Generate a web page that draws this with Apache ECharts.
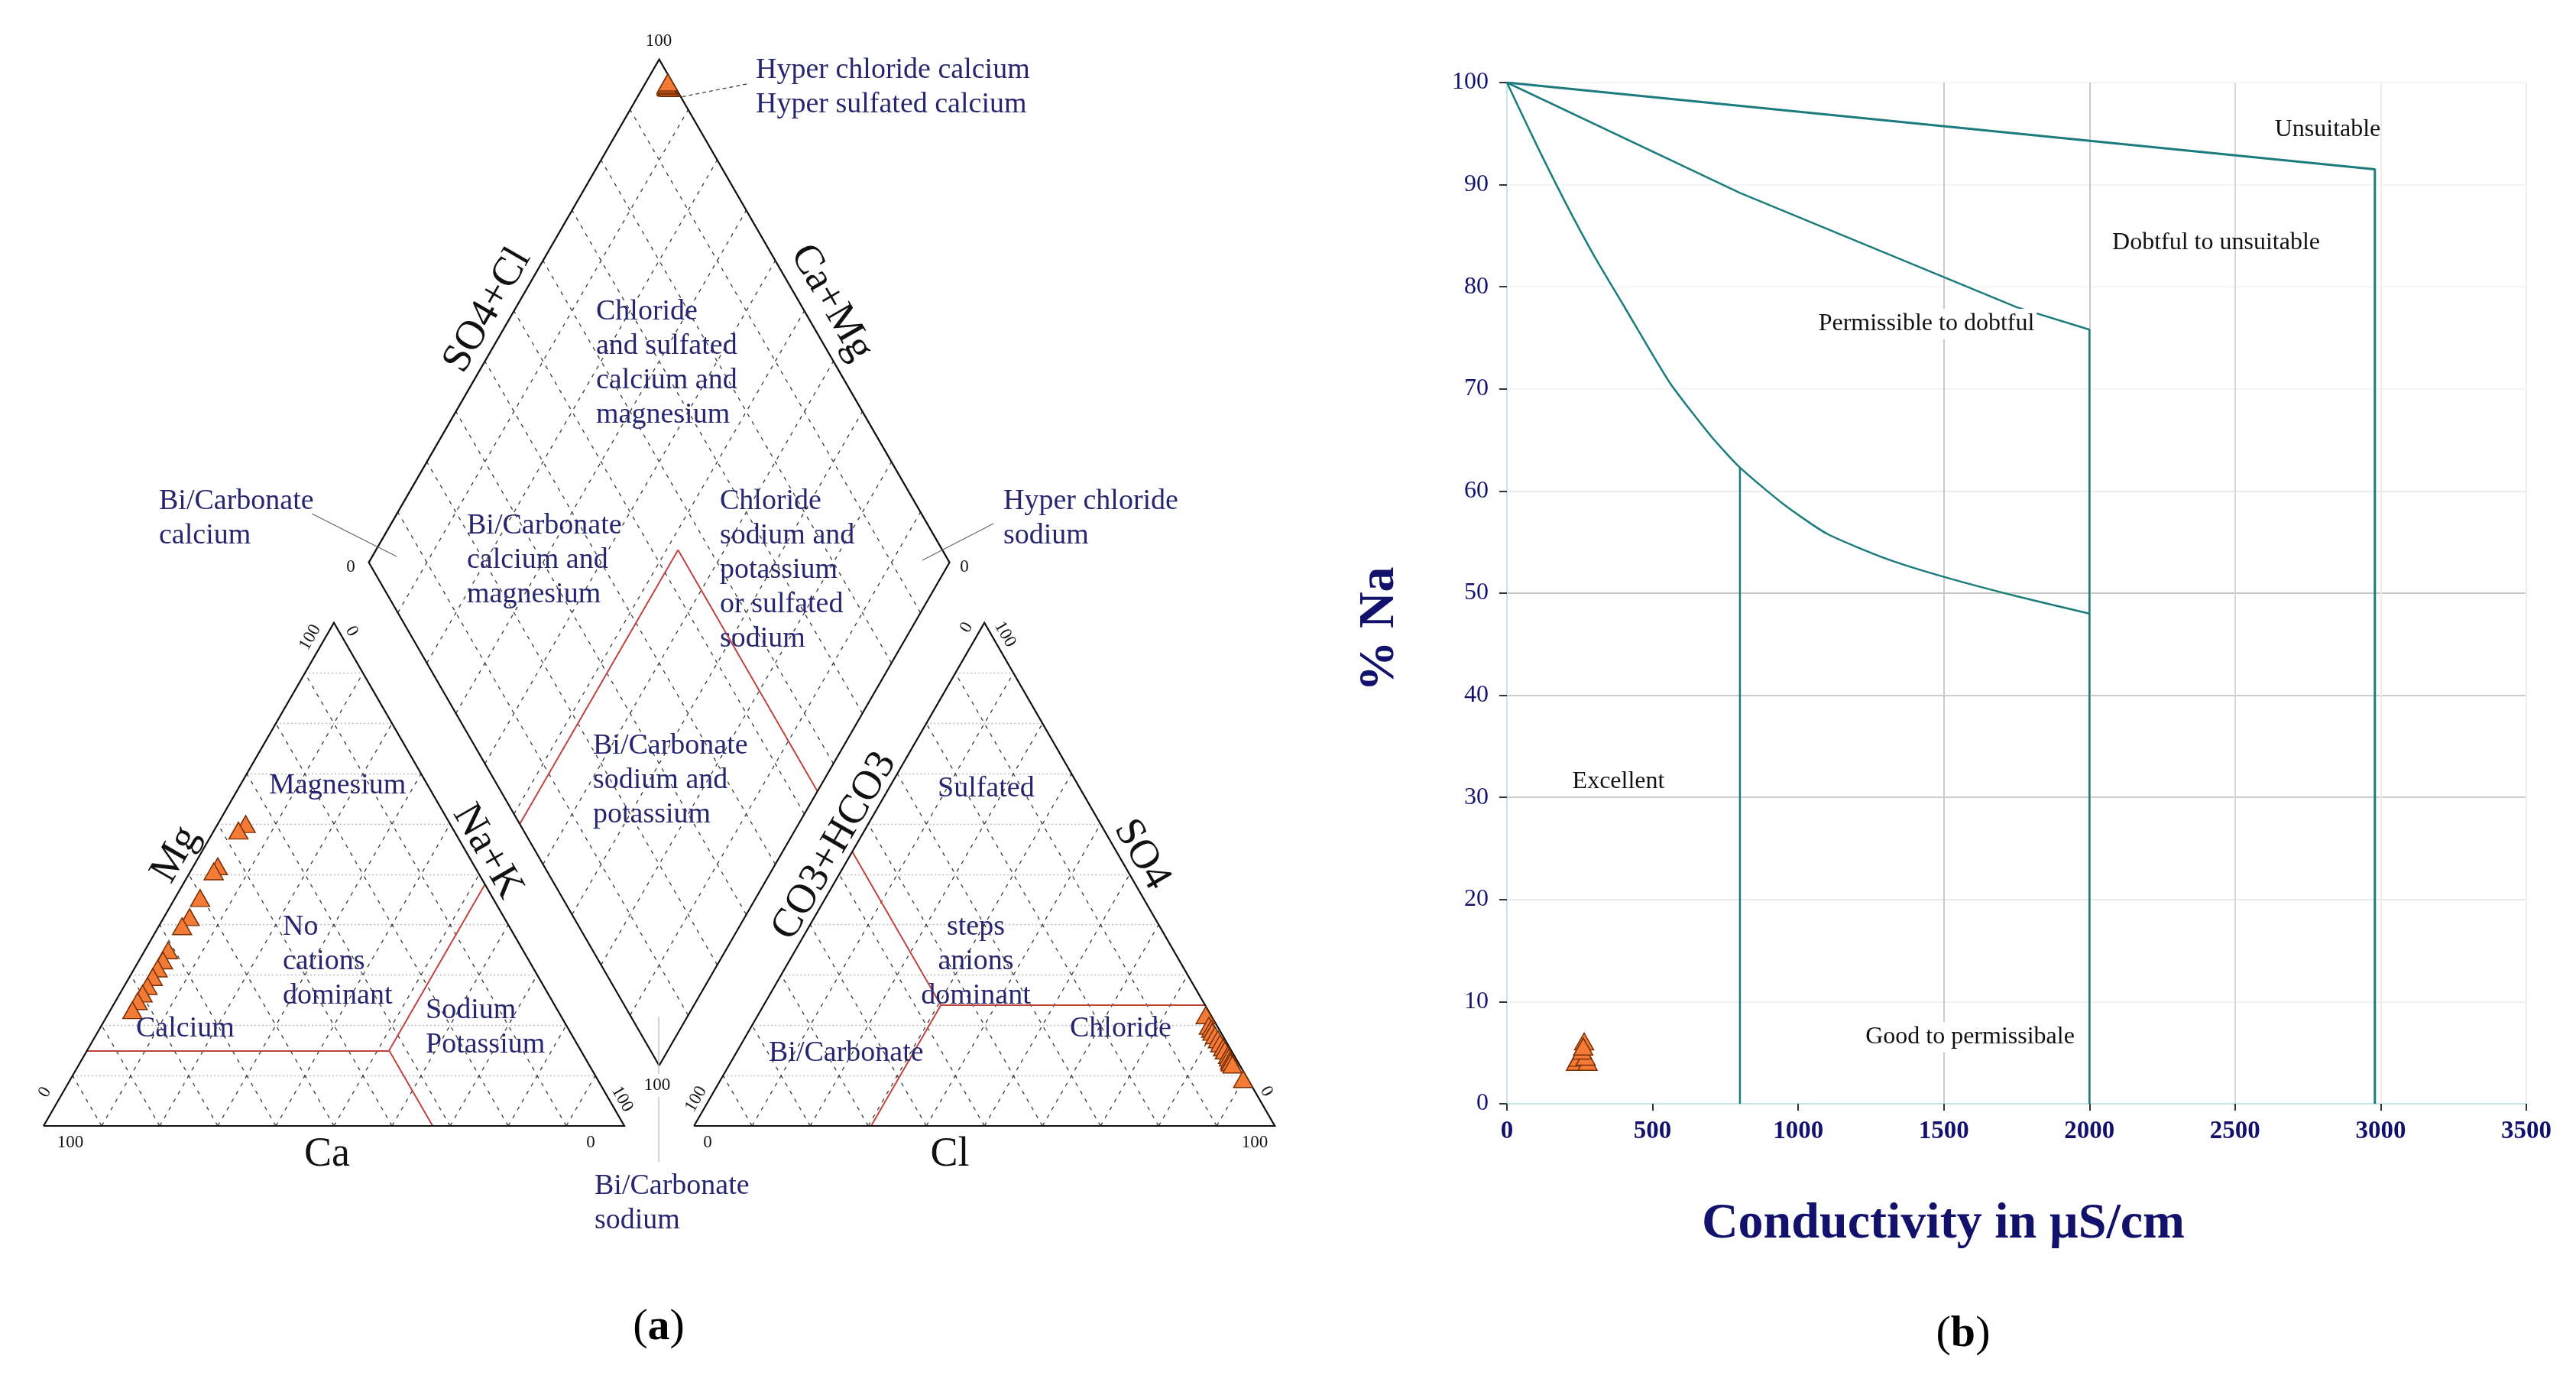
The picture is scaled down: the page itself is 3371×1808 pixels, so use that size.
<!DOCTYPE html>
<html>
<head>
<meta charset="utf-8">
<title>Piper and Wilcox diagrams</title>
<script src="https://cdn.jsdelivr.net/npm/echarts@6/dist/echarts.min.js"></script>
<style>
html, body { margin: 0; padding: 0; background: #fff; }
#chart { width: 3371px; height: 1808px; }
</style>
</head>
<body>
<div id="chart"></div>
<script>
// ---------- Piper samples (% meq/l) ----------
var cationCa  = [35.2, 37.1, 44.2, 45.4, 50.4, 54.1, 56.3, 61.1, 63.0, 64.7, 66.4, 68.2, 69.8, 71.4, 73.2];
var cationMg  = [60.0, 58.7, 51.6, 50.6, 45.3, 41.5, 39.7, 34.9, 32.9, 31.3, 29.6, 27.8, 26.3, 24.8, 23.0];
var cationNaK = [4.8, 4.2, 4.2, 4.0, 4.3, 4.4, 4.0, 4.0, 4.1, 4.0, 4.0, 4.0, 3.9, 3.8, 3.8];
var anionCl   = [77.1, 78.7, 79.4, 79.9, 80.7, 81.6, 82.4, 83.3, 83.9, 84.9, 85.3, 85.8, 86.1, 86.6, 89.9];
var anionSO4  = [22.0, 19.9, 19.3, 18.7, 18.0, 17.2, 16.4, 15.6, 15.0, 14.1, 13.6, 13.0, 12.6, 12.2, 9.3];
var anionHCO3 = [0.9, 1.4, 1.3, 1.4, 1.3, 1.2, 1.2, 1.1, 1.1, 1.0, 1.1, 1.2, 1.3, 1.2, 0.8];

// facies limits drawn in red
var limMg = 15, limCa = 33, limNa = 52;
var limSO4 = 24, limCl = 30.5, limHCO3 = 45.5;

// ---------- Wilcox samples ----------
var wilcoxEC = [237, 245, 277, 270, 265, 258, 262];
var wilcoxNa = [4.1, 4.5, 4.1, 4.6, 6.1, 5.2, 5.6];

// Wilcox class limits
var limTopX = [0, 2980, 2980];
var limTopY = [100, 91.5, 0];
var limMidX = [0, 800, 1750, 2000, 2000];
var limMidY = [100, 89.2, 78, 75.8, 0];
var limLowX = [0, 100, 200, 300, 400, 557, 700, 800, 950, 1100, 1300, 1500, 1750, 2000];
var limLowY = [100, 94, 88.3, 83, 78.2, 70.7, 65.4, 62.3, 58.7, 55.8, 53.4, 51.6, 49.7, 48];
var limExcX = [800, 800];
var limExcY = [62.3, 0];

var NAVY = '#262670';
var DARKNAVY = '#12126c';
var SERIF = '"Liberation Serif", "DejaVu Serif", serif';

// ---------- ternary geometry ----------
var H = Math.sqrt(3) / 2;
var GAP = 12;
function cat(ca, mg, na) { return [na + mg / 2, mg * H]; }
function ani(cl, so4, hco3) { return [100 + GAP + cl + so4 / 2, so4 * H]; }
function dia(caMg, so4Cl) {
	return [100 + GAP / 2 + (so4Cl - caMg) / 2, GAP * H + (caMg + so4Cl) * H];
}
function zip(xs, ys) {
	return xs.map(function (x, i) { return [x, ys[i]]; });
}

var outline = [
	[cat(100, 0, 0), cat(0, 0, 100), cat(0, 100, 0), cat(100, 0, 0)],
	[ani(0, 0, 100), ani(100, 0, 0), ani(0, 100, 0), ani(0, 0, 100)],
	[dia(0, 0), dia(100, 0), dia(100, 100), dia(0, 100), dia(0, 0)]
];
var dashed = [], dotted = [];
for (var k = 10; k < 100; k += 10) {
	dotted.push([cat(100 - k, k, 0), cat(0, k, 100 - k)]);
	dashed.push([cat(100 - k, 0, k), cat(0, 100 - k, k)]);
	dashed.push([cat(k, 0, 100 - k), cat(k, 100 - k, 0)]);
	dotted.push([ani(0, k, 100 - k), ani(100 - k, k, 0)]);
	dashed.push([ani(k, 0, 100 - k), ani(k, 100 - k, 0)]);
	dashed.push([ani(100 - k, 0, k), ani(0, 100 - k, k)]);
	dashed.push([dia(k, 0), dia(k, 100)]);
	dashed.push([dia(0, k), dia(100, k)]);
}
var p1 = cat(limCa, limMg, limNa);
var p2 = ani(limCl, limSO4, limHCO3);
var red = [
	[cat(100 - limMg, limMg, 0), p1],
	[p1, cat(limCa, 0, 100 - limCa)],
	[p1, cat(0, 100 - limNa, limNa)],
	[ani(100 - limSO4, limSO4, 0), p2],
	[p2, ani(limCl, 0, 100 - limCl)],
	[p2, ani(0, 100 - limHCO3, limHCO3)],
	[dia(100 - limNa, 0), dia(100 - limNa, 100 - limHCO3)],
	[dia(0, 100 - limHCO3), dia(100 - limNa, 100 - limHCO3)]
];

var catPts = cationCa.map(function (c, i) { return cat(c, cationMg[i], cationNaK[i]); });
var aniPts = anionCl.map(function (c, i) { return ani(c, anionSO4[i], anionHCO3[i]); });
var diaPts = cationCa.map(function (c, i) {
	return dia(c + cationMg[i], anionSO4[i] + anionCl[i]);
});

function segs(list) {
	return list.map(function (s) { return { coords: s }; });
}

var marker = {
	symbol: 'triangle',
	symbolSize: [25, 22],
	itemStyle: { color: '#f47b35', borderColor: '#7a2e05', borderWidth: 1.5, opacity: 1 }
};

// ---------- text helpers ----------
function label(x, y, text, size, o) {
	o = o || {};
	var st = {
		text: text,
		fill: o.color || NAVY,
		fontFamily: SERIF,
		fontSize: size,
		fontWeight: o.bold ? 'bold' : 'normal',
		align: o.align || 'left',
		verticalAlign: o.valign || 'top',
		lineHeight: o.lh || Math.round(size * 1.2)
	};
	if (o.bg) { st.backgroundColor = o.bg; st.padding = [1, 3]; }
	if (o.rich) { st.rich = o.rich; }
	return {
		type: 'text', x: x, y: y, z: 100,
		rotation: (o.rot || 0) * Math.PI / 180,
		style: st
	};
}
function tick(x, y, text, rot) {
	return label(x, y, text, 23, { color: '#111', align: 'center', valign: 'middle', rot: rot || 0 });
}
function axname(x, y, text, rot) {
	return label(x, y, text, 54, { color: '#111', align: 'center', valign: 'middle', rot: rot || 0 });
}
function leader(x1, y1, x2, y2, color, dash) {
	return {
		type: 'line', z: 90,
		shape: { x1: x1, y1: y1, x2: x2, y2: y2 },
		style: { stroke: color, lineWidth: 1.3, lineDash: dash || null }
	};
}
var captionRich = {
	p: { fontSize: 58, fontFamily: SERIF, fontWeight: 'normal', fill: '#000' },
	b: { fontSize: 58, fontFamily: SERIF, fontWeight: 'bold', fill: '#000' }
};
var FS = 38, LH = 45;
var graphics = [
	// Piper zone names
	label(989, 70, 'Hyper chloride calcium\nHyper sulfated calcium', FS, { lh: LH }),
	label(780, 386, 'Chloride\nand sulfated\ncalcium and\nmagnesium', FS, { lh: LH }),
	label(208, 634, 'Bi/Carbonate\ncalcium', FS, { lh: LH }),
	label(1313, 634, 'Hyper chloride\nsodium', FS, { lh: LH }),
	label(611, 666, 'Bi/Carbonate\ncalcium and\nmagnesium', FS, { lh: LH }),
	label(942, 634, 'Chloride\nsodium and\npotassium\nor sulfated\nsodium', FS, { lh: LH }),
	label(776, 954, 'Bi/Carbonate\nsodium and\npotassium', FS, { lh: LH }),
	label(352, 1006, 'Magnesium', FS, { lh: LH }),
	label(370, 1191, 'No\ncations\ndominant', FS, { lh: LH }),
	label(178, 1324, 'Calcium', FS, { lh: LH }),
	label(557, 1300, 'Sodium\nPotassium', FS, { lh: LH }),
	label(1227, 1010, 'Sulfated', FS, { lh: LH }),
	label(1277, 1191, 'steps\nanions\ndominant', FS, { lh: LH, align: 'center' }),
	label(1400, 1324, 'Chloride', FS, { lh: LH }),
	label(1006, 1356, 'Bi/Carbonate', FS, { lh: LH }),
	label(778, 1530, 'Bi/Carbonate\nsodium', FS, { lh: LH }),
	// Piper axis names
	axname(638, 406, 'SO4+Cl', 60),
	axname(1088, 396, 'Ca+Mg', -60),
	axname(230, 1118, 'Mg', 60),
	axname(638, 1114, 'Na+K', -60),
	axname(1092, 1107, 'CO3+HCO3', 60),
	axname(1494, 1118, 'SO4', -60),
	axname(428, 1511, 'Ca', 0),
	axname(1243, 1511, 'Cl', 0),
	// Piper scale ends
	tick(862, 54, '100'),
	tick(459, 742, '0'),
	tick(1262, 742, '0'),
	label(860, 1420, '100', 23, { color: '#111', align: 'center', valign: 'middle', bg: '#fff' }),
	tick(92, 1495, '100'),
	tick(773, 1495, '0'),
	tick(59, 1429, '0', 60),
	tick(406, 834, '100', 60),
	tick(460, 826, '0', -60),
	tick(814, 1438, '100', -60),
	tick(1265, 821, '0', 60),
	tick(1315, 830, '100', -60),
	tick(911, 1438, '100', 60),
	tick(1657, 1428, '0', -60),
	tick(926, 1495, '0'),
	tick(1642, 1495, '100'),
	// leaders
	leader(408, 672, 519, 728, '#666'),
	leader(1300, 685, 1207, 733, '#666'),
	leader(977, 110, 891, 127, '#444', [5, 4]),
	leader(862, 1330, 862, 1520, '#bbb'),
	// panel captions
	label(862, 1737, '{p|(}{b|a}{p|)}', 58, { color: '#000', align: 'center', valign: 'middle', rich: captionRich }),
	label(2569, 1746, '{p|(}{b|b}{p|)}', 58, { color: '#000', align: 'center', valign: 'middle', rich: captionRich }),
	// Wilcox titles
	label(1806, 823, '% Na', 66, { color: DARKNAVY, bold: true, align: 'center', valign: 'middle', rot: 90 }),
	label(2543, 1602, 'Conductivity in \u00b5S/cm', 66, { color: DARKNAVY, bold: true, align: 'center', valign: 'middle' }),
	// Wilcox classes
	label(3046, 170, 'Unsuitable', 32, { color: '#111', align: 'center', valign: 'middle' }),
	label(2900, 318, 'Dobtful to unsuitable', 32, { color: '#111', align: 'center', valign: 'middle' }),
	label(2521, 424, 'Permissible to dobtful', 32, { color: '#111', align: 'center', valign: 'middle', bg: '#fff' }),
	label(2118, 1023, 'Excellent', 32, { color: '#111', align: 'center', valign: 'middle' }),
	label(2578, 1357, 'Good to permissibale', 32, { color: '#111', align: 'center', valign: 'middle', bg: '#fff' })
];

var TEAL = '#1b7c7e';
function limitLine(xs, ys, w, smooth) {
	return {
		type: 'line', xAxisIndex: 1, yAxisIndex: 1,
		data: zip(xs, ys), showSymbol: false, symbol: 'none',
		smooth: smooth || false,
		lineStyle: { color: TEAL, width: w }, z: 3, silent: true
	};
}

var chart = echarts.init(document.getElementById('chart'));
var option = {
	animation: false,
	backgroundColor: '#ffffff',
	textStyle: { fontFamily: SERIF },
	grid: [
		{ left: 0, top: 29, width: 1710, height: 1672, outerBoundsMode: 'none' },
		{ left: 1972, top: 108, width: 1334, height: 1336, outerBoundsMode: 'none' }
	],
	xAxis: [
		{ gridIndex: 0, type: 'value', min: -7.5, max: 217.5, show: false },
		{
			gridIndex: 1, type: 'value', min: 0, max: 3500, interval: 500,
			axisLine: { show: true, lineStyle: { color: '#c4e5ea', width: 2 } },
			axisTick: { show: true, length: 9, lineStyle: { color: '#333', width: 2 } },
			axisLabel: {
				color: DARKNAVY, fontFamily: SERIF, fontSize: 33, fontWeight: 'bold', margin: 20,
				formatter: function (v) { return String(v); }
			},
			splitLine: {
				show: true,
				lineStyle: { width: 2, color: ['#c4e5ea', 'rgba(0,0,0,0)', 'rgba(0,0,0,0)', '#c9c9c9', '#c9c9c9', '#d9d9d9', '#eeeeee', '#eeeeee'] }
			}
		}
	],
	yAxis: [
		{ gridIndex: 0, type: 'value', min: -30, max: 190, show: false },
		{
			gridIndex: 1, type: 'value', min: 0, max: 100, interval: 10,
			axisLine: { show: true, lineStyle: { color: '#c4e5ea', width: 2 } },
			axisTick: { show: true, length: 10, lineStyle: { color: '#333', width: 2 } },
			axisLabel: {
				color: DARKNAVY, fontFamily: SERIF, fontSize: 32, margin: 24, padding: [20, 0, 0, 0],
				formatter: function (v) { return String(v); }
			},
			splitLine: {
				show: true,
				lineStyle: { width: 2, color: ['#c4e5ea', '#f2f2f2', '#ebebeb', '#cccccc', '#cccccc', '#c6c6c6', '#ececec', '#f5f5f5', '#f5f5f5', '#f5f5f5', '#f5f5f5'] }
			}
		}
	],
	graphic: graphics,
	series: [
		{
			type: 'lines', coordinateSystem: 'cartesian2d', xAxisIndex: 0, yAxisIndex: 0,
			data: segs(dotted), silent: true, z: 1,
			lineStyle: { color: '#bdbdbd', width: 1.3, type: [2, 3], opacity: 1 }
		},
		{
			type: 'lines', coordinateSystem: 'cartesian2d', xAxisIndex: 0, yAxisIndex: 0,
			data: segs(dashed), silent: true, z: 1,
			lineStyle: { color: '#3a3a3a', width: 1.3, type: [5, 7], opacity: 1 }
		},
		{
			type: 'lines', coordinateSystem: 'cartesian2d', xAxisIndex: 0, yAxisIndex: 0,
			data: segs(red), silent: true, z: 2,
			lineStyle: { color: '#c0443c', width: 2, opacity: 1 }
		},
		{
			type: 'lines', coordinateSystem: 'cartesian2d', xAxisIndex: 0, yAxisIndex: 0,
			polyline: true, data: segs(outline), silent: true, z: 3,
			lineStyle: { color: '#111', width: 2.2, opacity: 1 }
		},
		Object.assign({ type: 'scatter', xAxisIndex: 0, yAxisIndex: 0, data: catPts, z: 5 }, marker),
		Object.assign({ type: 'scatter', xAxisIndex: 0, yAxisIndex: 0, data: aniPts, z: 5 }, marker),
		Object.assign({ type: 'scatter', xAxisIndex: 0, yAxisIndex: 0, data: diaPts, z: 5 }, marker),
		limitLine(limTopX, limTopY, 3),
		limitLine(limMidX, limMidY, 2.5),
		limitLine(limLowX, limLowY, 2.5, 0.2),
		limitLine(limExcX, limExcY, 2.5),
		Object.assign({ type: 'scatter', xAxisIndex: 1, yAxisIndex: 1, data: zip(wilcoxEC, wilcoxNa), z: 5 }, marker)
	]
};
chart.setOption(option);
window.onresize = function () { chart.resize(); };
</script>
</body>
</html>
